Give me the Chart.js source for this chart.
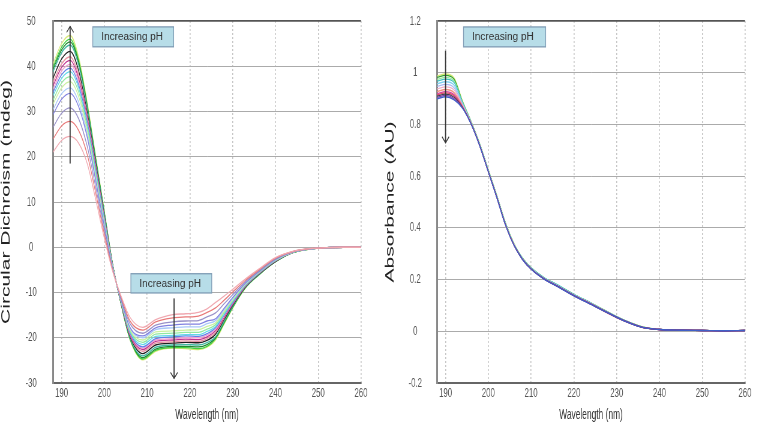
<!DOCTYPE html>
<html><head><meta charset="utf-8">
<script src="https://cdn.jsdelivr.net/npm/chart.js@4"></script>
<style>
html,body{margin:0;padding:0;background:#fff;width:768px;height:432px;overflow:hidden;}
.wrap{position:absolute;top:0;width:640px;height:432px;transform:scaleX(0.6);transform-origin:0 0;}
#w1{left:0}
#w2{left:384px}
</style></head><body>
<div class="wrap" id="w1"><canvas id="c1" width="640" height="432"></canvas></div>
<div class="wrap" id="w2"><canvas id="c2" width="640" height="432"></canvas></div>
<script>
const SX = 0.6;

// ---- Circular dichroism (left) ----
const wavelengthsCD = [188,190,192,194,196,198,200,202,204,206,209,212,216,219,222,224,226,228,230,233,236,240,244,248,252,256,260];
const cd01 = [21.0,23.6,24.5,23.0,18.5,10.5,2.0,-5.5,-11.0,-15.5,-17.7,-16.0,-14.9,-14.7,-14.4,-13.6,-12.2,-10.8,-9.3,-7.0,-4.9,-2.3,-0.9,-0.3,-0.1,0,0];
const cd02 = [23.9,26.8,27.8,25.8,20.5,11.9,2.9,-5.3,-11.3,-16.3,-18.3,-16.5,-15.6,-15.4,-15.2,-14.4,-13.4,-11.7,-9.9,-7.3,-5.1,-2.4,-0.95,-0.3,-0.1,0,0];
const cd03 = [26.5,29.6,30.8,28.4,22.3,13.2,3.7,-5.1,-11.6,-16.9,-19.0,-17.2,-16.5,-16.3,-16.2,-15.4,-14.5,-12.5,-10.5,-7.6,-5.3,-2.55,-1.0,-0.33,-0.1,0,0];
const cd04 = [29.3,32.7,34.0,31.1,24.3,14.6,4.6,-4.9,-11.9,-17.7,-19.6,-17.8,-17.2,-17.0,-17.0,-16.3,-15.8,-13.5,-11.1,-7.9,-5.5,-2.7,-1.03,-0.34,-0.1,0,0];
const cd05 = [30.4,33.9,35.2,32.1,25.0,15.1,4.9,-4.8,-12.0,-17.9,-20.0,-18.2,-17.8,-17.6,-17.6,-16.9,-16.2,-13.8,-11.3,-8.0,-5.5,-2.7,-1.05,-0.35,-0.1,0,0];
const cd06 = [31.6,35.2,36.6,33.3,25.8,15.6,5.2,-4.7,-12.1,-18.2,-20.5,-18.7,-18.5,-18.3,-18.2,-17.5,-16.7,-14.2,-11.6,-8.1,-5.6,-2.8,-1.06,-0.35,-0.1,0,0];
const cd07 = [32.5,36.3,37.7,34.3,26.5,16.1,5.5,-4.6,-12.2,-18.5,-21.0,-19.2,-19.0,-18.8,-18.8,-18.1,-17.1,-14.5,-11.8,-8.2,-5.7,-2.8,-1.08,-0.36,-0.1,0,0];
const cd08 = [33.5,37.3,38.8,35.2,27.1,16.6,5.8,-4.5,-12.3,-18.7,-21.5,-19.7,-19.5,-19.3,-19.3,-18.6,-17.5,-14.8,-12.0,-8.3,-5.7,-2.9,-1.1,-0.36,-0.1,0,0];
const cd09 = [34.2,38.1,39.6,35.9,27.7,17.0,6.1,-4.5,-12.4,-18.9,-22.0,-20.2,-19.8,-19.6,-19.7,-19.1,-17.8,-15.0,-12.2,-8.4,-5.8,-2.9,-1.1,-0.37,-0.1,0,0];
const cd10 = [34.9,38.9,40.4,36.6,28.1,17.2,6.3,-4.4,-12.4,-19.1,-22.3,-20.5,-20.2,-20.0,-20.0,-19.4,-18.1,-15.2,-12.3,-8.4,-5.8,-2.9,-1.11,-0.37,-0.1,0,0];
const cd11 = [35.7,39.7,41.3,37.3,28.6,17.6,6.5,-4.4,-12.5,-19.3,-22.6,-20.8,-20.5,-20.3,-20.4,-19.8,-18.4,-15.5,-12.5,-8.5,-5.9,-3.0,-1.12,-0.38,-0.1,0,0];
const cd12 = [36.4,40.5,42.1,38.0,29.2,18.0,6.7,-4.3,-12.6,-19.5,-23.0,-21.2,-20.9,-20.7,-20.8,-20.2,-18.8,-15.7,-12.6,-8.6,-5.9,-3.0,-1.14,-0.38,-0.1,0,0];
const cd13 = [37.4,41.6,43.3,39.0,29.8,18.5,7.0,-4.2,-12.7,-19.7,-23.5,-21.6,-21.2,-21.0,-21.1,-20.6,-19.2,-16.0,-12.8,-8.7,-6.0,-3.1,-1.15,-0.38,-0.1,0,0];
const cd14 = [38.7,43.0,44.7,40.2,30.8,19.1,7.5,-4.1,-12.8,-20.1,-24.0,-22.1,-21.6,-21.5,-21.6,-21.1,-19.8,-16.4,-13.1,-8.8,-6.1,-3.1,-1.17,-0.39,-0.1,0,0];
const cd15 = [39.3,43.6,45.4,40.8,31.2,19.4,7.6,-4.1,-12.9,-20.2,-24.4,-22.5,-21.9,-21.9,-22.0,-21.5,-20.0,-16.6,-13.2,-8.9,-6.1,-3.2,-1.18,-0.39,-0.1,0,0];
const cd16 = [39.8,44.2,46.0,41.3,31.5,19.6,7.8,-4.1,-12.9,-20.3,-24.7,-22.8,-22.2,-22.2,-22.4,-21.9,-20.2,-16.8,-13.3,-8.9,-6.2,-3.2,-1.19,-0.4,-0.1,0,0];
const cd17 = [40.5,45.0,46.8,42.0,32.0,20.0,8.0,-4.0,-13.0,-20.5,-24.9,-23.0,-22.3,-22.4,-22.6,-22.1,-20.5,-17.0,-13.5,-9.0,-6.2,-3.2,-1.2,-0.4,-0.1,0,0];
const cdSeries = [cd01,cd02,cd03,cd04,cd05,cd06,cd07,cd08,cd09,cd10,cd11,cd12,cd13,cd14,cd15,cd16,cd17];
const cdColors = ['#f0a8b0','#e87878','#9890c8','#8080e0','#a8c8f8','#c8f0a0','#90e8a0','#60d8e8','#6080e8','#f0a0d0','#c03090','#e890a0','#202020','#40b8a0','#208830','#40d040','#d8e878'];
const cdTicks = [-30,-20,-10,0,10,20,30,40,50];

// ---- Absorbance (right) ----
const wavelengthsAbs = [188,190,192,194,196,198,200,202,204,206,208,210,213,216,220,224,228,232,236,240,245,250,255,260];
const ab01 = [0.987,0.995,0.980,0.889,0.810,0.725,0.625,0.525,0.420,0.339,0.283,0.245,0.207,0.180,0.142,0.109,0.074,0.041,0.017,0.007,0.004,0.003,0.002,0.003];
const ab02 = [0.982,0.990,0.975,0.887,0.810,0.724,0.624,0.524,0.419,0.338,0.282,0.245,0.207,0.180,0.142,0.109,0.074,0.041,0.017,0.007,0.004,0.003,0.002,0.003];
const ab03 = [0.974,0.982,0.968,0.885,0.809,0.723,0.623,0.523,0.418,0.338,0.282,0.245,0.207,0.180,0.142,0.108,0.073,0.041,0.017,0.007,0.004,0.003,0.002,0.003];
const ab04 = [0.967,0.975,0.962,0.883,0.808,0.723,0.623,0.523,0.418,0.337,0.282,0.245,0.208,0.181,0.143,0.109,0.073,0.041,0.016,0.007,0.004,0.003,0.002,0.003];
const ab05 = [0.957,0.965,0.952,0.880,0.807,0.722,0.622,0.521,0.417,0.336,0.281,0.244,0.206,0.179,0.141,0.108,0.073,0.040,0.016,0.007,0.004,0.003,0.002,0.003];
const ab06 = [0.947,0.955,0.942,0.876,0.806,0.720,0.620,0.520,0.415,0.335,0.280,0.243,0.205,0.178,0.140,0.107,0.072,0.040,0.016,0.007,0.004,0.003,0.002,0.003];
const ab07 = [0.937,0.945,0.933,0.873,0.804,0.719,0.619,0.519,0.414,0.334,0.279,0.242,0.204,0.177,0.139,0.106,0.071,0.039,0.016,0.007,0.004,0.003,0.002,0.003];
const ab08 = [0.927,0.935,0.923,0.870,0.803,0.718,0.618,0.518,0.413,0.334,0.279,0.242,0.204,0.177,0.139,0.106,0.071,0.039,0.015,0.007,0.004,0.003,0.002,0.003];
const ab09 = [0.919,0.927,0.915,0.867,0.802,0.718,0.618,0.518,0.413,0.333,0.278,0.241,0.203,0.176,0.138,0.105,0.070,0.039,0.015,0.007,0.004,0.003,0.002,0.003];
const ab10 = [0.914,0.922,0.910,0.866,0.802,0.717,0.617,0.517,0.412,0.333,0.278,0.241,0.203,0.176,0.138,0.105,0.069,0.038,0.015,0.007,0.004,0.003,0.002,0.003];
const ab11 = [0.909,0.917,0.905,0.865,0.801,0.717,0.617,0.517,0.412,0.332,0.278,0.241,0.203,0.176,0.138,0.105,0.071,0.039,0.015,0.007,0.004,0.003,0.002,0.003];
const ab12 = [0.904,0.912,0.900,0.864,0.800,0.716,0.616,0.516,0.411,0.332,0.278,0.241,0.203,0.176,0.138,0.105,0.071,0.039,0.015,0.007,0.004,0.003,0.002,0.003];
const ab13 = [0.899,0.907,0.895,0.862,0.800,0.716,0.616,0.516,0.411,0.332,0.277,0.240,0.202,0.175,0.137,0.104,0.070,0.038,0.015,0.007,0.004,0.003,0.002,0.003];
const absSeries = [ab13,ab12,ab11,ab10,ab09,ab08,ab07,ab06,ab05,ab04,ab03,ab02,ab01];
const absColors = ['#4060c8','#8040a8','#404050','#e04860','#d040a0','#f09080','#f0b0c8','#a8b8f0','#80d0f0','#40c0c0','#98e898','#30a030','#d8e878'];
const absTicks = [-0.2,0,0.2,0.4,0.6,0.8,1,1.2];

const xTicks = [190,200,210,220,230,240,250,260];
const xTitle = 'Wavelength (nm)';
const noteText = 'Increasing pH';

function annotPlugin(boxes, arrows) {
  return {
    id: 'annot',
    afterDatasetsDraw(chart) {
      const {ctx, scales: {x, y}} = chart;
      ctx.save();
      arrows.forEach(a => {
        const px = x.getPixelForValue(a.x);
        const y0 = y.getPixelForValue(a.from), y1 = y.getPixelForValue(a.to);
        ctx.strokeStyle = '#333';
        ctx.lineWidth = 1.1 / SX;
        ctx.beginPath(); ctx.moveTo(px, y0); ctx.lineTo(px, y1); ctx.stroke();
        const dir = y1 < y0 ? 1 : -1;
        const hw = 3.5 / SX, hh = 6;
        ctx.lineWidth = 1.2;
        ctx.beginPath(); ctx.moveTo(px - hw, y1 + dir * hh); ctx.lineTo(px, y1); ctx.lineTo(px + hw, y1 + dir * hh); ctx.stroke();
      });
      boxes.forEach(b => {
        const x0 = x.getPixelForValue(b.x0), x1 = x.getPixelForValue(b.x1);
        const y0 = y.getPixelForValue(b.y0), y1 = y.getPixelForValue(b.y1);
        ctx.fillStyle = '#b7dde8';
        ctx.fillRect(x0, y0, x1 - x0, y1 - y0);
        ctx.strokeStyle = '#7f9cb5';
        ctx.lineWidth = 1.3;
        ctx.strokeRect(x0, y0, x1 - x0, y1 - y0);
        ctx.save();
        ctx.translate(x0 + 8.5 / SX, (y0 + y1) / 2 + 0.5);
        ctx.scale(1 / SX, 1);
        ctx.fillStyle = '#333';
        ctx.font = '10px "Liberation Sans", Arial, sans-serif';
        ctx.textBaseline = 'middle';
        ctx.textAlign = 'left';
        ctx.fillText(noteText, 0, 0);
        ctx.restore();
      });
      ctx.restore();
    }
  };
}

function makeChart(id, xs, series, colors, yTicks, yTitle, tickPad, annots) {
  const yMin = yTicks[0], yMax = yTicks[yTicks.length - 1];
  const datasets = series.map((ys, i) => ({
    data: xs.map((xv, j) => ({x: xv, y: ys[j]})),
    borderColor: colors[i],
    borderWidth: 1.3,
    pointRadius: 0,
    fill: false,
    cubicInterpolationMode: 'monotone'
  }));
  const fontFam = '"Liberation Sans", Arial, sans-serif';
  return new Chart(document.getElementById(id), {
    type: 'line',
    data: {datasets},
    options: {
      responsive: false,
      animation: false,
      layout: {padding: {left: 0, right: 38.3, top: 21, bottom: 0}},
      plugins: {legend: {display: false}, tooltip: {enabled: false}},
      scales: {
        x: {
          type: 'linear', min: 188, max: 260,
          afterBuildTicks: s => { s.ticks = xTicks.map(v => ({value: v})); },
          afterFit: s => { s.height = 49; s.paddingLeft = 0; s.paddingRight = 0; },
          grid: {color: '#c4c4c4', lineWidth: 1.6, drawTicks: false},
          border: {display: true, color: '#666', width: 2, dash: [2, 2]},
          ticks: {padding: 3, color: '#555', font: {family: fontFam, size: 13}, maxRotation: 0, autoSkip: false, callback: v => String(v)},
          title: {display: true, text: xTitle, color: '#333', font: {family: fontFam, size: 14}, padding: {top: 0, bottom: 8}}
        },
        y: {
          type: 'linear', min: yMin, max: yMax,
          afterBuildTicks: s => { s.ticks = yTicks.map(v => ({value: v})); },
          afterFit: s => { s.width = 88.3; s.paddingTop = 0; s.paddingBottom = 0; },
          grid: {
            color: c => (c.tick && c.tick.value === yMax) ? '#555' : '#ababab',
            lineWidth: c => (c.tick && c.tick.value === yMax) ? 1.8 : 1,
            drawTicks: false
          },
          border: {display: true, color: '#888', width: 3},
          ticks: {crossAlign: 'center', padding: tickPad, color: '#555', font: {family: fontFam, size: 13}, autoSkip: false, callback: v => String(v)},
          title: {display: true, text: yTitle, color: '#222', font: {family: fontFam, size: 21, lineHeight: 1}, padding: {top: 0, bottom: 0}}
        }
      }
    },
    plugins: [annotPlugin(annots.boxes, annots.arrows)]
  });
}

makeChart('c1', wavelengthsCD, cdSeries, cdColors, cdTicks, 'Circular Dichroism (mdeg)', 27, {
  boxes: [{x0: 197.3, x1: 216.2, y0: 48.7, y1: 44.3}, {x0: 206.2, x1: 225.1, y0: -5.85, y1: -10.1}],
  arrows: [{x: 192, from: 18.5, to: 48.8}, {x: 216.3, from: -11.3, to: -29.0}]
});
makeChart('c2', wavelengthsAbs, absSeries, absColors, absTicks, 'Absorbance (AU)', 25, {
  boxes: [{x0: 194.2, x1: 213.4, y0: 1.177, y1: 1.1}],
  arrows: [{x: 190, from: 1.085, to: 0.729}]
});
</script>
</body></html>
